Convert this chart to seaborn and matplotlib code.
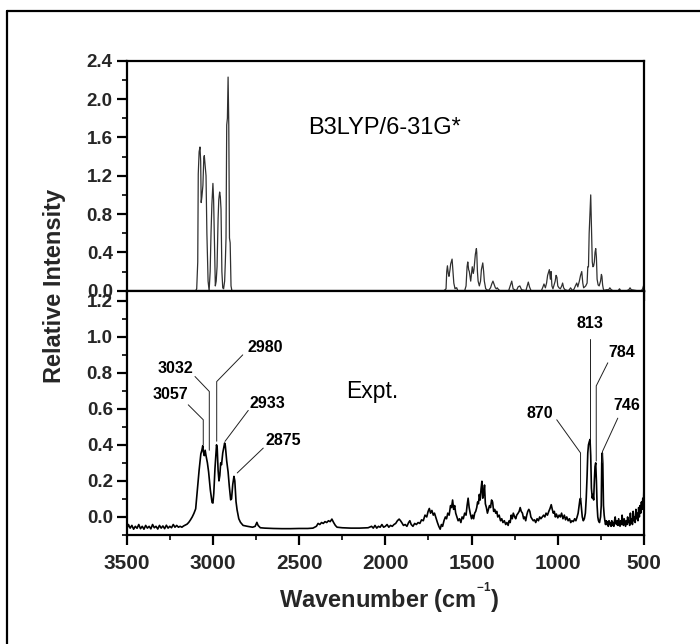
import matplotlib
matplotlib.use("Agg")
import matplotlib.pyplot as plt
import numpy as np
import pandas as pd
import seaborn as sns
from matplotlib.ticker import MultipleLocator
from matplotlib.lines import Line2D

# ---------------- data ----------------
# Calculated (B3LYP/6-31G*) spectrum, C-H stretch region
calc_ch_wn = [3500, 3100, 3094, 3088, 3085, 3080, 3075, 3071, 3068, 3064,
              3058, 3053, 3050, 3045, 3040, 3035, 3028, 3022, 3016, 3011,
              3006, 3000, 2996, 2991, 2986, 2981, 2976, 2970, 2966, 2961,
              2957, 2953, 2948, 2943, 2938, 2932, 2928, 2924, 2920, 2916,
              2912, 2908, 2904, 2900, 2895, 2890]
calc_ch_int = [0.00, 0.00, 0.02, 0.30, 1.22, 1.45, 1.50, 1.35, 0.92, 0.98,
               1.10, 1.38, 1.41, 1.30, 1.20, 0.60, 0.10, 0.00, 0.20, 0.60,
               0.90, 1.12, 0.95, 0.50, 0.05, 0.10, 0.25, 0.75, 0.95, 1.03,
               0.98, 0.85, 0.20, 0.03, 0.02, 0.10, 0.30, 0.55, 1.73, 1.80,
               2.23, 1.73, 0.55, 0.50, 0.05, 0.00]

# Calculated spectrum, fingerprint region
calc_fp_wn = [1660, 1648, 1644, 1640, 1635, 1631, 1625, 1621, 1613, 1608,
              1603, 1596, 1590, 1586, 1580, 1540, 1532, 1526, 1522, 1517,
              1513, 1505, 1500, 1496, 1490, 1486, 1478, 1472, 1470, 1466,
              1462, 1455, 1448, 1443, 1435, 1430, 1426, 1418, 1403, 1390,
              1383, 1376, 1368, 1362, 1356, 1351, 1343, 1335, 1285, 1276,
              1267, 1259, 1240, 1230, 1220, 1210, 1185, 1177, 1171, 1164,
              1155, 1095, 1086, 1080, 1072, 1065, 1059, 1052, 1049, 1043,
              1039, 1034, 1028, 1015, 1010, 1005, 1000, 993, 985, 977,
              972, 966, 958, 940, 933, 926, 918, 912, 905, 898,
              890, 884, 875, 868, 861, 855, 850, 838, 830, 826,
              822, 818, 813, 809, 805, 800, 796, 792, 788, 784,
              780, 776, 772, 766, 760, 752, 747, 744, 740, 736,
              730, 720, 705, 698, 690, 680, 650, 642, 635, 600,
              588, 581, 574, 540, 515, 508, 503, 500]
calc_fp_int = [0.00, 0.02, 0.20, 0.26, 0.18, 0.15, 0.22, 0.28, 0.33, 0.20,
               0.08, 0.02, 0.03, 0.03, 0.00, 0.00, 0.05, 0.25, 0.30, 0.22,
               0.20, 0.10, 0.18, 0.25, 0.18, 0.22, 0.38, 0.44, 0.40, 0.20,
               0.10, 0.05, 0.10, 0.22, 0.29, 0.20, 0.10, 0.02, 0.00, 0.03,
               0.07, 0.10, 0.06, 0.03, 0.02, 0.03, 0.01, 0.00, 0.00, 0.05,
               0.10, 0.02, 0.00, 0.04, 0.05, 0.01, 0.00, 0.05, 0.09, 0.04,
               0.00, 0.00, 0.04, 0.07, 0.03, 0.08, 0.16, 0.20, 0.22, 0.12,
               0.20, 0.05, 0.02, 0.10, 0.16, 0.14, 0.05, 0.03, 0.02, 0.05,
               0.08, 0.03, 0.01, 0.00, 0.01, 0.03, 0.01, 0.00, 0.02, 0.05,
               0.08, 0.04, 0.10, 0.16, 0.20, 0.08, 0.03, 0.05, 0.08, 0.25,
               0.25, 0.60, 0.82, 1.00, 0.70, 0.30, 0.25, 0.26, 0.30, 0.40,
               0.44, 0.35, 0.12, 0.06, 0.05, 0.10, 0.17, 0.15, 0.06, 0.02,
               0.00, 0.01, 0.01, 0.03, 0.01, 0.00, 0.00, 0.02, 0.00, 0.00,
               0.01, 0.03, 0.01, 0.00, 0.00, 0.02, 0.05, 0.06]

# Experimental spectrum, 3500-2420 cm-1
exp_ch_wn = [3500, 3490, 3480, 3470, 3460, 3450, 3440, 3430, 3420, 3410,
             3400, 3390, 3380, 3370, 3360, 3350, 3340, 3330, 3320, 3310,
             3300, 3290, 3280, 3270, 3260, 3250, 3240, 3230, 3220, 3210,
             3200, 3190, 3180, 3170, 3160, 3150, 3140, 3130, 3120, 3110,
             3100, 3090, 3080, 3070, 3064, 3059, 3055, 3050, 3045, 3040,
             3032, 3025, 3015, 3005, 3000, 2995, 2988, 2983, 2979, 2975,
             2970, 2965, 2960, 2955, 2950, 2943, 2937, 2932, 2928, 2920,
             2912, 2905, 2897, 2892, 2885, 2878, 2873, 2866, 2860, 2850,
             2840, 2825, 2800, 2770, 2755, 2745, 2738, 2725, 2700, 2650,
             2600, 2550, 2500, 2450, 2420]
exp_ch_int = [-0.068, -0.042, -0.062, -0.047, -0.068, -0.052, -0.063, -0.042, -0.065, -0.052,
              -0.068, -0.047, -0.062, -0.052, -0.066, -0.042, -0.060, -0.052, -0.067, -0.047,
              -0.062, -0.050, -0.065, -0.046, -0.062, -0.052, -0.060, -0.042, -0.057, -0.047,
              -0.057, -0.052, -0.057, -0.050, -0.045, -0.040, -0.030, -0.016, 0.000, 0.020,
              0.045, 0.150, 0.260, 0.350, 0.370, 0.395, 0.360, 0.340, 0.370, 0.340,
              0.300, 0.250, 0.150, 0.080, 0.077, 0.130, 0.270, 0.340, 0.400, 0.380,
              0.260, 0.200, 0.230, 0.300, 0.290, 0.355, 0.385, 0.410, 0.395, 0.310,
              0.250, 0.170, 0.095, 0.100, 0.180, 0.225, 0.200, 0.085, 0.040, -0.010,
              -0.030, -0.047, -0.052, -0.057, -0.052, -0.030, -0.047, -0.060, -0.062, -0.064,
              -0.065, -0.065, -0.064, -0.064, -0.062]

# Experimental spectrum, 2400-500 cm-1
exp_fp_wn = [2400, 2390, 2380, 2370, 2360, 2350, 2340, 2330, 2320, 2310,
             2300, 2290, 2280, 2250, 2200, 2150, 2100, 2080, 2070, 2060,
             2050, 2040, 2030, 2020, 2010, 2000, 1990, 1980, 1970, 1960,
             1950, 1940, 1930, 1920, 1912, 1905, 1895, 1885, 1875, 1865,
             1858, 1850, 1840, 1830, 1820, 1810, 1800, 1790, 1780, 1770,
             1760, 1752, 1745, 1738, 1730, 1722, 1715, 1705, 1698, 1690,
             1682, 1675, 1668, 1660, 1652, 1645, 1638, 1630, 1622, 1616,
             1610, 1604, 1598, 1592, 1585, 1578, 1570, 1562, 1555, 1548,
             1540, 1532, 1526, 1520, 1514, 1508, 1500, 1494, 1488, 1482,
             1476, 1470, 1465, 1460, 1455, 1450, 1445, 1440, 1435, 1430,
             1425, 1420, 1414, 1408, 1402, 1396, 1390, 1384, 1378, 1372,
             1366, 1360, 1354, 1348, 1340, 1332, 1325, 1318, 1310, 1302,
             1295, 1288, 1282, 1276, 1270, 1264, 1258, 1250, 1244, 1238,
             1230, 1224, 1218, 1212, 1205, 1198, 1192, 1186, 1180, 1174,
             1168, 1162, 1156, 1150, 1142, 1135, 1128, 1120, 1112, 1105,
             1098, 1090, 1082, 1075, 1068, 1060, 1052, 1045, 1038, 1032,
             1026, 1020, 1014, 1008, 1000, 992, 985, 978, 970, 962,
             955, 948, 940, 932, 925, 918, 910, 902, 895, 888,
             882, 876, 872, 868, 864, 858, 852, 846, 840, 835,
             830, 826, 822, 818, 813, 809, 805, 800, 796, 792,
             788, 784, 780, 776, 772, 768, 764, 758, 752, 748,
             745, 742, 739, 735, 731, 727, 723, 719, 715, 711,
             707, 703, 699, 695, 691, 687, 683, 679, 675, 671,
             667, 663, 659, 655, 651, 647, 643, 639, 635, 631,
             627, 623, 619, 615, 611, 607, 603, 599, 595, 591,
             587, 583, 579, 575, 571, 567, 563, 559, 555, 551,
             547, 543, 539, 535, 531, 527, 523, 519, 515, 511,
             507, 503, 500]
exp_fp_int = [-0.052, -0.036, -0.042, -0.031, -0.036, -0.026, -0.031, -0.021, -0.026, -0.012,
              -0.031, -0.047, -0.057, -0.060, -0.062, -0.062, -0.060, -0.052, -0.062, -0.047,
              -0.062, -0.052, -0.057, -0.042, -0.057, -0.052, -0.042, -0.057, -0.047, -0.052,
              -0.042, -0.036, -0.021, -0.012, -0.021, -0.031, -0.047, -0.042, -0.052, -0.031,
              -0.021, -0.042, -0.052, -0.036, -0.042, -0.031, -0.036, -0.016, -0.021, 0.010,
              0.000, 0.031, 0.047, 0.021, 0.036, 0.010, 0.021, -0.010, -0.031, -0.052,
              -0.068, -0.042, -0.052, -0.021, 0.000, -0.010, 0.021, 0.010, 0.063, 0.052,
              0.094, 0.042, 0.063, 0.021, 0.000, -0.021, -0.010, -0.031, 0.000, -0.010,
              0.021, 0.010, 0.063, 0.104, 0.052, 0.021, -0.010, 0.010, -0.010, 0.021,
              0.031, 0.052, 0.083, 0.073, 0.125, 0.094, 0.156, 0.198, 0.104, 0.125,
              0.177, 0.073, 0.052, 0.021, 0.042, 0.063, 0.052, 0.094, 0.083, 0.031,
              0.042, 0.021, 0.031, 0.000, 0.010, -0.021, -0.010, -0.031, -0.021, -0.042,
              -0.031, -0.047, -0.021, -0.031, 0.010, -0.010, 0.021, 0.000, -0.010, 0.010,
              0.021, 0.031, 0.052, 0.031, 0.021, -0.010, 0.000, -0.021, 0.010, 0.031,
              0.042, 0.031, 0.000, -0.010, -0.021, -0.016, -0.031, -0.010, -0.021, 0.000,
              -0.010, 0.000, 0.010, 0.000, 0.021, 0.010, 0.031, 0.047, 0.068, 0.042,
              0.021, 0.031, 0.000, 0.016, -0.005, 0.010, 0.000, 0.021, -0.010, 0.010,
              -0.016, 0.000, -0.021, -0.010, -0.031, -0.021, -0.026, -0.010, -0.021, 0.000,
              0.021, 0.063, 0.094, 0.104, 0.063, 0.000, -0.021, -0.010, 0.021, 0.104,
              0.229, 0.355, 0.400, 0.415, 0.430, 0.340, 0.160, 0.104, 0.125, 0.094,
              0.200, 0.280, 0.300, 0.200, 0.063, 0.000, -0.021, -0.031, 0.000, 0.063,
              0.300, 0.355, 0.300, 0.063, 0.010, -0.021, -0.042, -0.021, -0.042, -0.026,
              -0.052, -0.021, -0.042, -0.031, -0.052, -0.021, -0.047, -0.031, -0.052, -0.021,
              0.000, -0.036, -0.042, -0.021, -0.047, -0.010, -0.031, -0.052, -0.021, -0.042,
              0.010, -0.031, -0.047, -0.010, -0.031, -0.052, -0.021, -0.042, 0.000, -0.031,
              -0.021, -0.047, 0.021, -0.031, -0.010, -0.042, 0.031, -0.021, 0.000, -0.031,
              0.042, -0.010, 0.021, -0.021, 0.052, 0.000, 0.063, 0.021, 0.083, 0.042,
              0.104, 0.063, 0.180]

# Peak labels of the experimental spectrum and their leader lines
peak_labels = ["3057", "3032", "2980", "2933", "2875", "870", "813", "784", "746"]
label_x = [3249, 3220, 2695, 2686, 2593, 1107, 815, 630, 601]
label_y = [0.678, 0.822, 0.938, 0.632, 0.424, 0.572, 1.071, 0.912, 0.617]
leader_x = [[3143, 3056, 3056], [3104, 3021, 3021], [2827, 2978, 2978],
            [2795, 2930], [2708, 2859], [1006, 868, 868], [811, 811],
            [710, 777, 777], [652, 741, 741]]
leader_y = [[0.622, 0.539, 0.400], [0.779, 0.696, 0.370], [0.899, 0.751, 0.420],
            [0.591, 0.419], [0.382, 0.244], [0.539, 0.355, 0.100], [0.986, 0.430],
            [0.855, 0.727, 0.310], [0.548, 0.363, 0.300]]

# ---------------- figure ----------------
sns.set_theme(style="ticks")
plt.rcParams["font.family"] = ["Liberation Sans", "DejaVu Sans"]
plt.rcParams["mathtext.fontset"] = "custom"
plt.rcParams["mathtext.rm"] = "Liberation Sans:bold"
plt.rcParams["mathtext.bf"] = "Liberation Sans:bold"

fig = plt.figure(figsize=(7.0, 6.44), dpi=100)
ax1 = fig.add_axes([0.181, 0.5486, 0.739, 0.357])
ax2 = fig.add_axes([0.181, 0.1693, 0.739, 0.3793])

calc_df = pd.DataFrame({"wn": calc_ch_wn + calc_fp_wn,
                        "I": calc_ch_int + calc_fp_int})
exp_df = pd.DataFrame({"wn": exp_ch_wn + exp_fp_wn,
                       "I": exp_ch_int + exp_fp_int})

sns.lineplot(data=calc_df, x="wn", y="I", ax=ax1, sort=False, estimator=None,
             color="#303030", linewidth=0.9)
sns.lineplot(data=exp_df, x="wn", y="I", ax=ax2, sort=False, estimator=None,
             color="black", linewidth=1.2)

for ax in (ax1, ax2):
    ax.set_xlim(3500, 500)
    ax.set_xlabel("")
    ax.set_ylabel("")
    ax.xaxis.set_major_locator(MultipleLocator(500))
    ax.xaxis.set_minor_locator(MultipleLocator(250))
    for sp in ax.spines.values():
        sp.set_visible(True)
        sp.set_linewidth(1.6)
        sp.set_color("black")
    ax.tick_params(which="major", direction="out", length=7, width=1.6,
                   color="black", right=False, top=False)
    ax.tick_params(which="minor", direction="out", length=3.5, width=1.2,
                   color="black", right=False, top=False)
    ax.tick_params(axis="y", which="major", pad=3, labelsize=13.5)
    ax.tick_params(axis="x", which="major", pad=7, labelsize=15)

ax1.set_ylim(0, 2.4)
ax1.yaxis.set_major_locator(MultipleLocator(0.4))
ax1.yaxis.set_minor_locator(MultipleLocator(0.2))
ax1.tick_params(axis="x", labelbottom=False)

ax2.set_ylim(-0.1, 1.255)
ax2.yaxis.set_major_locator(MultipleLocator(0.2))
ax2.yaxis.set_minor_locator(MultipleLocator(0.1))

for ax in (ax1, ax2):
    for lab in ax.get_xticklabels() + ax.get_yticklabels():
        lab.set_fontweight("bold")

ax1.text(2448, 1.70, "B3LYP/6-31G*", fontsize=17, ha="left", va="center",
         color="black")
ax2.text(2228, 0.694, "Expt.", fontsize=16.5, ha="left", va="center",
         color="black")

for lab, lx, ly, px, py in zip(peak_labels, label_x, label_y, leader_x, leader_y):
    ax2.text(lx, ly, lab, fontsize=11.5, fontweight="bold", ha="center",
             va="center", color="black")
    ax2.plot(px, py, color="#202020", linewidth=0.7)

fig.text(55 / 700, 1 - 285.5 / 644, "Relative Intensity", rotation=90,
         fontsize=17, fontweight="bold", ha="center", va="center")
fig.text(389 / 700, 1 - 598 / 644, r"Wavenumber (cm$^{^{-1}}$)",
         fontsize=17, fontweight="bold", ha="center", va="center")

# outer frame (top and left edges visible)
fig.add_artist(Line2D([7 / 700, 7 / 700], [1 - 11 / 644, 0.0],
                      transform=fig.transFigure, color="black", linewidth=1.6))
fig.add_artist(Line2D([7 / 700, 1.0], [1 - 11 / 644, 1 - 11 / 644],
                      transform=fig.transFigure, color="black", linewidth=1.6))

fig.savefig("out.png", dpi=100, facecolor="white")
